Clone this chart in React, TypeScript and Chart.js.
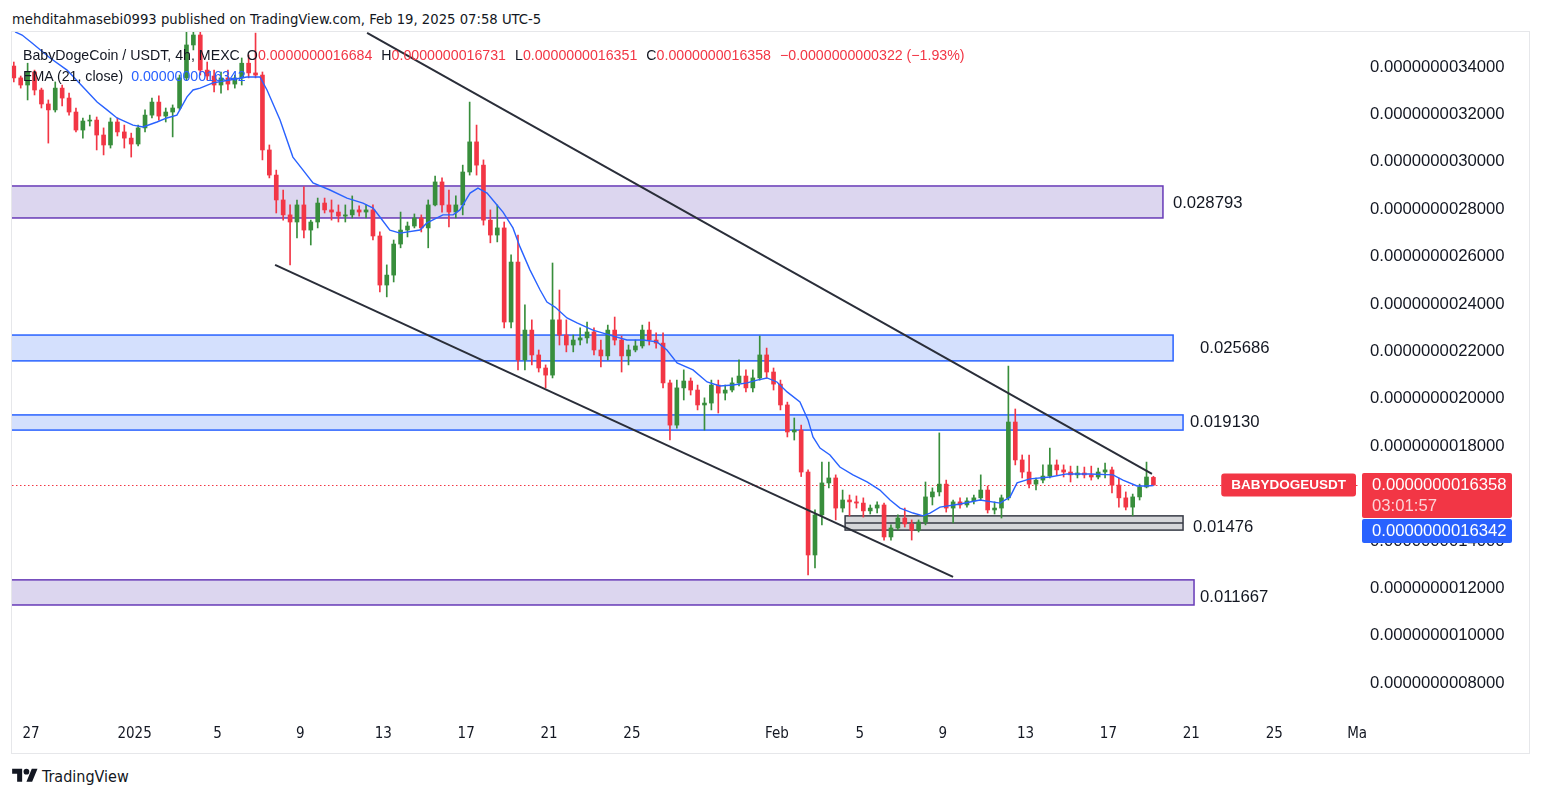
import React, { useEffect, useRef } from "react";
import { Chart, registerables } from "chart.js";

Chart.register(...registerables);

// ---------- data (prices in units of 1e-10 USDT) ----------
// x axis: days after 27 Dec 2024; candles are 8h apart
const firstCandleDay = -0.83;
const candleStepDays = 1 / 3;

const opens = [
  34.04, 33.54, 33.24, 33.79, 33.03, 32.44, 32.19, 33.11, 32.69, 32.10,
  31.34, 31.72, 31.76, 31.13, 30.71, 31.68, 31.26, 31.00, 30.75, 31.43,
  31.97, 32.52, 31.93, 32.10, 32.27, 33.54, 34.93, 35.35, 33.87, 33.62,
  33.24, 33.54, 33.28, 33.54, 34.16, 33.75, 33.66, 30.50, 29.44, 28.39,
  27.76, 27.46, 28.18, 27.12, 27.46, 28.26, 27.97, 27.88, 27.71, 27.76,
  27.97, 27.88, 27.97, 26.87, 24.80, 25.22, 26.53, 27.12, 27.29, 27.63,
  27.21, 28.18, 29.15, 28.18, 27.88, 28.18, 29.57, 30.84, 29.86, 27.54,
  26.91, 27.21, 23.24, 25.77, 21.64, 22.90, 21.85, 21.30, 21.00, 23.33,
  22.69, 22.27, 22.48, 22.57, 22.82, 22.06, 21.81, 22.90, 22.48, 21.81,
  22.06, 22.23, 22.90, 22.48, 22.35, 20.67, 18.89, 20.46, 20.75, 20.37,
  19.74, 19.82, 20.58, 20.24, 20.37, 20.67, 20.96, 20.46, 20.88, 21.85,
  21.13, 20.62, 19.74, 18.60, 18.68, 16.91, 13.41, 15.10, 16.45, 16.66,
  15.39, 15.73, 15.65, 15.60, 15.27, 15.39, 15.52, 14.17, 14.55, 14.97,
  14.72, 14.46, 14.80, 15.86, 16.07, 16.40, 15.39, 15.65, 15.52, 15.69,
  15.82, 16.15, 15.31, 15.39, 15.82, 19.02, 17.42, 16.91, 16.40, 16.57,
  16.74, 17.21, 17.00, 16.91, 16.79, 16.87, 16.79, 16.70, 16.91, 17.00,
  16.36, 15.82, 15.43, 15.86, 16.28, 16.684,
];
const highs = [
  34.21, 33.62, 34.16, 33.87, 33.11, 32.61, 33.37, 33.24, 32.90, 32.27,
  31.85, 31.97, 31.89, 31.43, 31.85, 31.85, 31.55, 31.21, 31.55, 32.19,
  32.69, 32.78, 32.27, 32.40, 33.66, 35.60, 36.10, 35.64, 34.21, 33.87,
  33.79, 33.87, 33.66, 34.38, 34.51, 35.43, 33.79, 30.71, 29.65, 28.81,
  28.18, 28.39, 28.94, 27.54, 28.47, 28.47, 28.39, 28.18, 28.18, 28.56,
  28.14, 28.18, 28.18, 27.04, 25.65, 26.70, 27.88, 27.46, 27.80, 27.76,
  28.39, 29.40, 29.32, 28.81, 28.56, 29.86, 32.52, 31.55, 30.08, 27.97,
  28.18, 27.46, 26.07, 26.91, 23.96, 23.33, 22.06, 21.43, 25.73, 24.59,
  23.33, 22.69, 22.99, 23.24, 22.99, 22.48, 23.11, 23.45, 22.65, 22.27,
  22.48, 23.11, 23.24, 22.78, 22.78, 20.79, 20.79, 21.22, 20.88, 20.58,
  20.04, 20.79, 20.79, 20.58, 20.88, 21.64, 21.22, 21.22, 22.65, 22.14,
  21.30, 20.79, 19.86, 19.19, 18.89, 17.00, 15.31, 17.33, 17.33, 16.79,
  16.15, 15.94, 15.90, 15.82, 15.52, 15.65, 15.60, 14.68, 15.10, 15.39,
  14.89, 14.89, 16.49, 16.24, 18.56, 16.57, 15.73, 15.82, 15.82, 15.94,
  16.79, 16.32, 15.65, 15.94, 21.38, 19.57, 17.63, 17.63, 16.66, 17.21,
  17.92, 17.42, 17.21, 17.16, 17.16, 17.12, 17.16, 17.08, 17.29, 17.12,
  16.66, 16.07, 15.98, 16.40, 17.33, 16.731,
];
const lows = [
  33.37, 33.11, 32.61, 32.82, 32.27, 30.79, 32.10, 32.36, 31.97, 31.26,
  31.00, 31.51, 30.50, 30.29, 30.58, 31.09, 30.58, 30.20, 30.67, 31.26,
  31.85, 31.76, 31.68, 31.05, 32.19, 33.45, 34.72, 33.66, 33.45, 32.95,
  32.90, 33.03, 33.11, 33.24, 33.54, 33.54, 30.08, 29.32, 27.84, 27.54,
  25.65, 26.79, 26.79, 26.49, 27.21, 27.84, 27.54, 27.46, 27.46, 27.63,
  27.71, 27.63, 26.70, 24.51, 24.30, 24.93, 26.37, 26.83, 27.21, 27.04,
  26.37, 28.14, 27.88, 27.25, 27.63, 27.76, 29.44, 29.44, 27.33, 26.58,
  26.62, 22.99, 22.99, 21.22, 21.22, 21.43, 21.13, 20.46, 20.88, 22.27,
  21.98, 21.98, 22.27, 22.35, 21.85, 21.34, 21.64, 22.27, 21.13, 21.43,
  21.98, 22.14, 22.27, 22.14, 20.46, 18.26, 18.76, 19.95, 20.16, 19.53,
  18.68, 19.53, 19.40, 19.95, 20.29, 20.54, 20.29, 20.29, 20.79, 20.88,
  20.37, 19.53, 18.39, 18.26, 16.72, 12.57, 12.86, 14.68, 16.24, 14.89,
  15.22, 15.06, 15.39, 15.01, 15.14, 15.18, 14.04, 14.04, 14.46, 14.59,
  14.04, 14.38, 14.68, 15.52, 15.90, 15.22, 14.76, 15.39, 15.43, 15.56,
  15.73, 15.18, 15.14, 14.97, 15.73, 17.21, 16.66, 16.24, 16.15, 16.45,
  16.66, 16.79, 16.70, 16.49, 16.66, 16.66, 16.57, 16.62, 16.66, 16.03,
  15.43, 15.31, 15.06, 15.73, 16.24, 16.351,
];
const closes = [
  33.54, 33.24, 33.79, 33.03, 32.44, 32.19, 33.11, 32.69, 32.10, 31.34,
  31.72, 31.76, 31.13, 30.71, 31.68, 31.26, 31.00, 30.75, 31.43, 31.97,
  32.52, 31.93, 32.10, 32.27, 33.54, 34.93, 35.35, 33.87, 33.62, 33.24,
  33.54, 33.28, 33.54, 34.16, 33.75, 33.66, 30.50, 29.44, 28.39, 27.76,
  27.46, 28.18, 27.12, 27.46, 28.26, 27.97, 27.88, 27.71, 27.76, 27.97,
  27.88, 27.97, 26.87, 24.80, 25.22, 26.53, 27.12, 27.29, 27.63, 27.21,
  28.18, 29.15, 28.18, 27.88, 28.18, 29.57, 30.84, 29.86, 27.54, 26.91,
  27.21, 23.24, 25.77, 21.64, 22.90, 21.85, 21.30, 21.00, 23.33, 22.69,
  22.27, 22.48, 22.57, 22.82, 22.06, 21.81, 22.90, 22.48, 21.81, 22.06,
  22.23, 22.90, 22.48, 22.35, 20.67, 18.89, 20.46, 20.75, 20.37, 19.74,
  19.82, 20.58, 20.24, 20.37, 20.67, 20.96, 20.46, 20.88, 21.85, 21.13,
  20.62, 19.74, 18.60, 18.68, 16.91, 13.41, 15.10, 16.45, 16.66, 15.39,
  15.73, 15.65, 15.60, 15.27, 15.39, 15.52, 14.17, 14.55, 14.97, 14.72,
  14.46, 14.80, 15.86, 16.07, 16.40, 15.39, 15.65, 15.52, 15.69, 15.82,
  16.15, 15.31, 15.39, 15.82, 19.02, 17.42, 16.91, 16.40, 16.57, 16.74,
  17.21, 17.00, 16.91, 16.79, 16.87, 16.79, 16.70, 16.91, 17.00, 16.36,
  15.82, 15.43, 15.86, 16.28, 16.70, 16.358,
];

// EMA (21, close)
const emaDays = [
  -0.77, -0.43, 0.05, 0.92, 1.74, 2.51, 3.19, 3.67, 4.15, 4.92, 5.41, 6.08, 6.56, 7.04, 7.53, 7.82,
  8.16, 8.78, 9.6, 10.42, 11.05, 11.39, 12.02, 12.64, 13.13, 13.61, 14.43, 15.25, 16.02, 16.51, 16.84,
  17.32, 17.81, 18.77, 19.11, 19.88, 20.37, 20.7, 21.19, 21.57, 22.01, 22.49, 22.78, 23.26, 23.6, 24.08,
  24.57, 24.9, 25.29, 25.87, 26.35, 27.12, 27.94, 28.76, 29.54, 30.21, 30.69, 31.18, 31.95, 32.63, 33.25,
  33.88, 34.56, 35.04, 35.52, 36.0, 36.49, 37.11, 37.5, 37.74, 38.08, 38.56, 39.04, 39.67, 40.35, 40.97,
  41.46, 41.94, 42.57, 43.05, 43.39, 43.87, 44.84, 45.8, 46.77, 47.25, 47.59, 48.21, 49.18, 50.0, 51.11,
  52.22, 52.7, 53.38, 53.86, 54.17,
];
const emaValues = [
  35.48, 35.35, 35.01, 34.38, 33.87, 33.16, 32.52, 32.19, 31.85, 31.55, 31.47, 31.68, 31.85, 31.97, 32.74, 33.03,
  33.11, 33.33, 33.45, 33.58, 33.58, 33.03, 31.76, 30.2, 29.65, 29.11, 28.81, 28.47, 28.26, 28.05, 27.67,
  27.12, 26.99, 27.12, 27.42, 27.76, 27.76, 27.97, 28.68, 28.89, 28.68, 28.18, 27.88, 27.21, 26.41, 25.44,
  24.59, 24.08, 23.87, 23.41, 23.2, 22.9, 22.69, 22.48, 22.48, 22.4, 22.06, 21.51, 21.22, 20.71, 20.54,
  20.58, 20.67, 20.79, 20.88, 20.71, 20.29, 19.87, 19.11, 18.39, 17.92, 17.63, 17.12, 16.79, 16.49, 16.15,
  15.73, 15.39, 15.18, 15.06, 15.18, 15.43, 15.56, 15.73, 15.6, 15.86, 16.45, 16.62, 16.7, 16.83, 16.83,
  16.79, 16.57, 16.32, 16.32, 16.342,
];

const yTicks = [8, 10, 12, 14, 16, 18, 20, 22, 24, 26, 28, 30, 32, 34];
const xTickDays = [0, 5, 9, 13, 17, 21, 25, 29, 36, 40, 44, 48, 52, 56, 60, 64];
const xTickLabels = ["27", "2025", "5", "9", "13", "17", "21", "25", "Feb", "5", "9", "13", "17", "21", "25", "Ma"];

// drawn zones
const zoneTops = [28.98, 22.69, 19.32, 15.06, 12.36];
const zoneBottoms = [27.63, 21.6, 18.68, 14.46, 11.3];
const zoneStartDays = [-3, -3, -3, 39.29, -3];
const zoneEndDays = [54.63, 55.12, 55.6, 55.6, 56.13];
const zoneKinds = ["purple", "blue", "blue", "grey", "purple"];
const zoneLabels = ["0.028793", "0.025686", "0.019130", "0.01476", "0.011667"];
const zoneLabelDays = [55.11, 56.42, 55.93, 56.08, 56.42];
const zoneLabelPrices = [28.26, 22.14, 19.02, 14.59, 11.64];
const greyMidPrice = 14.76;

// trend lines
const lineStartDays = [16.22, 11.78];
const lineStartPrices = [35.44, 25.65];
const lineEndDays = [54.1, 44.5];
const lineEndPrices = [16.83, 12.49];

const symbolName = "BABYDOGEUSDT";
const countdown = "03:01:57";

const X_MIN = -0.917;
const X_MAX = 64.14;
const Y_MIN = 6.658;
const Y_MAX = 35.477;

const GREEN = "#388E3C";
const RED = "#F23645";
const BLUE = "#2962FF";
const TEXT = "#131722";
const AXIS_FONT = '"Liberation Sans", Arial, sans-serif';
const NARROW_FONT = '"Liberation Sans Narrow", "DejaVu Sans Condensed", "Arial Narrow", sans-serif';

const fmt = (v: number) => (v * 1e-10).toFixed(13);

const zoneStyles: Record<string, { fill: string; stroke: string }> = {
  purple: { fill: "#DCD6EF", stroke: "#673AB7" },
  blue: { fill: "#D4E0FD", stroke: "#2962FF" },
  grey: { fill: "#D6D7DA", stroke: "#363A45" },
};

function roundRect(ctx: CanvasRenderingContext2D, x: number, y: number, w: number, h: number, r: number) {
  ctx.beginPath();
  ctx.moveTo(x + r, y);
  ctx.lineTo(x + w - r, y);
  ctx.quadraticCurveTo(x + w, y, x + w, y + r);
  ctx.lineTo(x + w, y + h - r);
  ctx.quadraticCurveTo(x + w, y + h, x + w - r, y + h);
  ctx.lineTo(x + r, y + h);
  ctx.quadraticCurveTo(x, y + h, x, y + h - r);
  ctx.lineTo(x, y + r);
  ctx.quadraticCurveTo(x, y, x + r, y);
  ctx.closePath();
}

const overlayPlugin = {
  id: "tvOverlay",
  beforeDatasetsDraw(chart: any) {
    const { ctx, chartArea: a, scales } = chart;
    const x = scales.x;
    const y = scales.y;
    ctx.save();
    ctx.beginPath();
    ctx.rect(a.left, a.top, a.right - a.left, a.bottom - a.top);
    ctx.clip();
    for (let k = 0; k < zoneTops.length; k++) {
      const x0 = x.getPixelForValue(zoneStartDays[k]);
      const x1 = x.getPixelForValue(zoneEndDays[k]);
      const y0 = y.getPixelForValue(zoneTops[k]);
      const y1 = y.getPixelForValue(zoneBottoms[k]);
      const st = zoneStyles[zoneKinds[k]];
      ctx.fillStyle = st.fill;
      ctx.fillRect(x0, y0, x1 - x0, y1 - y0);
      ctx.strokeStyle = st.stroke;
      ctx.lineWidth = 1.5;
      ctx.strokeRect(x0, y0, x1 - x0, y1 - y0);
      if (zoneKinds[k] === "grey") {
        const ym = y.getPixelForValue(greyMidPrice);
        ctx.beginPath();
        ctx.moveTo(x0, ym);
        ctx.lineTo(x1, ym);
        ctx.stroke();
      }
    }
    // last price dotted line
    const lastPrice = closes[closes.length - 1];
    const py = Math.round(y.getPixelForValue(lastPrice)) + 0.5;
    ctx.strokeStyle = RED;
    ctx.lineWidth = 1;
    ctx.setLineDash([1.5, 2.5]);
    ctx.beginPath();
    ctx.moveTo(a.left, py);
    ctx.lineTo(a.right, py);
    ctx.stroke();
    ctx.restore();
  },
  afterDatasetsDraw(chart: any) {
    const { ctx, chartArea: a, scales } = chart;
    const x = scales.x;
    const y = scales.y;
    ctx.save();
    ctx.beginPath();
    ctx.rect(a.left, a.top, a.right - a.left, a.bottom - a.top);
    ctx.clip();
    ctx.strokeStyle = "#2A2E39";
    ctx.lineWidth = 2;
    for (let k = 0; k < lineStartDays.length; k++) {
      ctx.beginPath();
      ctx.moveTo(x.getPixelForValue(lineStartDays[k]), y.getPixelForValue(lineStartPrices[k]));
      ctx.lineTo(x.getPixelForValue(lineEndDays[k]), y.getPixelForValue(lineEndPrices[k]));
      ctx.stroke();
    }
    ctx.fillStyle = TEXT;
    ctx.font = `16.7px ${AXIS_FONT}`;
    ctx.textAlign = "left";
    ctx.textBaseline = "middle";
    for (let k = 0; k < zoneLabels.length; k++) {
      ctx.fillText(zoneLabels[k], x.getPixelForValue(zoneLabelDays[k]), y.getPixelForValue(zoneLabelPrices[k]));
    }
    ctx.restore();
  },
  afterDraw(chart: any) {
    const { ctx, chartArea: a, scales } = chart;
    const y = scales.y;
    const lastPrice = closes[closes.length - 1];
    const lastEma = emaValues[emaValues.length - 1];
    const py = y.getPixelForValue(lastPrice);
    ctx.save();
    // symbol label
    ctx.font = `bold 13.5px ${AXIS_FONT}`;
    const sw = ctx.measureText(symbolName).width + 20;
    const sx = a.right - 4 - sw;
    ctx.fillStyle = RED;
    roundRect(ctx, sx, py - 11.5, sw, 23, 3);
    ctx.fill();
    ctx.fillStyle = "#FFFFFF";
    ctx.textAlign = "center";
    ctx.textBaseline = "middle";
    ctx.fillText(symbolName, sx + sw / 2, py + 0.5);
    // price box
    const bx = a.right + 2;
    const bw = 150;
    ctx.fillStyle = RED;
    roundRect(ctx, bx, py - 12, bw, 45, 2);
    ctx.fill();
    ctx.font = `16.7px ${AXIS_FONT}`;
    ctx.textAlign = "left";
    ctx.fillStyle = "#FFFFFF";
    ctx.fillText(fmt(lastPrice), bx + 10, py + 0.5);
    ctx.fillStyle = "rgba(255,255,255,0.78)";
    ctx.fillText(countdown, bx + 10, py + 21.5);
    // EMA box
    ctx.fillStyle = BLUE;
    roundRect(ctx, bx, py + 34, bw, 24, 2);
    ctx.fill();
    ctx.fillStyle = "#FFFFFF";
    ctx.fillText(fmt(lastEma), bx + 10, py + 46.5);
    ctx.restore();
  },
};

function TvLogo() {
  return (
    <svg width="26" height="20" viewBox="0 0 36 28" style={{ display: "block" }}>
      <path d="M14 22H7V11H0V4h14v18zM28 22h-8l7.5-18h8L28 22z" fill={TEXT} />
      <circle cx="20" cy="8" r="4" fill={TEXT} />
    </svg>
  );
}

export default function App() {
  const canvasRef = useRef<HTMLCanvasElement>(null);

  useEffect(() => {
    const canvas = canvasRef.current;
    if (!canvas) return;
    const candleDays = opens.map((_, i) => firstCandleDay + i * candleStepDays);
    const colors = opens.map((o, i) => (closes[i] >= o ? GREEN : RED));
    const wickData = candleDays.map((d, i) => ({ x: d, y: [lows[i], highs[i]] }));
    const bodyData = candleDays.map((d, i) => ({ x: d, y: [opens[i], closes[i]] }));
    const emaData = emaDays.map((d, i) => ({ x: d, y: emaValues[i] }));

    const chart = new Chart(canvas, {
      type: "bar",
      data: {
        datasets: [
          {
            type: "line",
            label: "EMA (21, close)",
            data: emaData,
            borderColor: BLUE,
            borderWidth: 1.4,
            pointRadius: 0,
            tension: 0,
            order: 0,
          } as any,
          {
            label: "body",
            data: bodyData as any,
            backgroundColor: colors,
            barThickness: 4,
            grouped: false,
            minBarLength: 1,
            order: 1,
          },
          {
            label: "wick",
            data: wickData as any,
            backgroundColor: colors,
            barThickness: 1,
            grouped: false,
            order: 2,
          },
        ],
      },
      options: {
        responsive: false,
        maintainAspectRatio: false,
        animation: false,
        layout: { padding: 0 },
        plugins: { legend: { display: false }, tooltip: { enabled: false } },
        scales: {
          x: {
            type: "linear",
            min: X_MIN,
            max: X_MAX,
            offset: false,
            grid: { display: false, drawTicks: false, offset: false },
            border: { display: false },
            afterBuildTicks: (s: any) => {
              s.ticks = xTickDays.map((v) => ({ value: v }));
            },
            afterFit: (s: any) => {
              s.height = 37;
              s.paddingLeft = 0;
              s.paddingRight = 0;
            },
            ticks: {
              autoSkip: false,
              maxRotation: 0,
              padding: 10,
              color: TEXT,
              font: { family: NARROW_FONT, size: 15 },
              callback: (v: any) => {
                const k = xTickDays.indexOf(Number(v));
                return k >= 0 ? xTickLabels[k] : "";
              },
            },
          },
          y: {
            type: "linear",
            position: "right",
            min: Y_MIN,
            max: Y_MAX,
            grid: { display: false, drawTicks: false },
            border: { display: false },
            afterBuildTicks: (s: any) => {
              s.ticks = yTicks.map((v) => ({ value: v }));
            },
            afterFit: (s: any) => {
              s.width = 168;
              s.paddingTop = 0;
              s.paddingBottom = 0;
            },
            ticks: {
              padding: 10,
              color: TEXT,
              font: { family: AXIS_FONT, size: 16.7 },
              callback: (v: any) => fmt(Number(v)),
            },
          },
        },
      } as any,
      plugins: [overlayPlugin],
    });
    return () => chart.destroy();
  }, []);

  const lastPrice = closes[closes.length - 1];
  const lastEma = emaValues[emaValues.length - 1];

  return (
    <div style={{ position: "absolute", left: 0, top: 0, width: 1541, height: 798, background: "#fff", overflow: "hidden" }}>
      <div
        style={{
          position: "absolute",
          left: 12,
          top: 10,
          fontFamily: NARROW_FONT,
          fontSize: 14.7,
          color: TEXT,
          whiteSpace: "nowrap",
        }}
      >
        mehditahmasebi0993 published on TradingView.com, Feb 19, 2025 07:58 UTC-5
      </div>
      <div
        style={{
          position: "absolute",
          left: 11,
          top: 31,
          width: 1519,
          height: 723,
          boxSizing: "border-box",
          border: "1px solid #E6E7EA",
        }}
      />
      <canvas
        ref={canvasRef}
        width={1516}
        height={720}
        style={{ position: "absolute", left: 12, top: 32, width: 1516, height: 720 }}
      />
      <div
        style={{
          position: "absolute",
          left: 23,
          top: 45,
          fontFamily: AXIS_FONT,
          fontSize: 14.2,
          color: TEXT,
          whiteSpace: "nowrap",
          lineHeight: "21px",
          pointerEvents: "none",
        }}
      >
        <div>
          <span>BabyDogeCoin / USDT, 4h, MEXC</span>
          <span style={{ marginLeft: 7 }}>O</span>
          <span style={{ color: RED }}>0.0000000016684</span>
          <span style={{ marginLeft: 9 }}>H</span>
          <span style={{ color: RED }}>0.0000000016731</span>
          <span style={{ marginLeft: 9 }}>L</span>
          <span style={{ color: RED }}>0.0000000016351</span>
          <span style={{ marginLeft: 9 }}>C</span>
          <span style={{ color: RED }}>{fmt(lastPrice)}</span>
          <span style={{ color: RED, marginLeft: 9 }}>−0.0000000000322 (−1.93%)</span>
        </div>
        <div>
          <span>EMA (21, close)</span>
          <span style={{ color: BLUE, marginLeft: 8 }}>{fmt(lastEma)}</span>
        </div>
      </div>
      <div style={{ position: "absolute", left: 12, top: 766, display: "flex", alignItems: "center", gap: 4 }}>
        <TvLogo />
        <span style={{ fontFamily: NARROW_FONT, fontSize: 16, color: TEXT }}>TradingView</span>
      </div>
    </div>
  );
}
